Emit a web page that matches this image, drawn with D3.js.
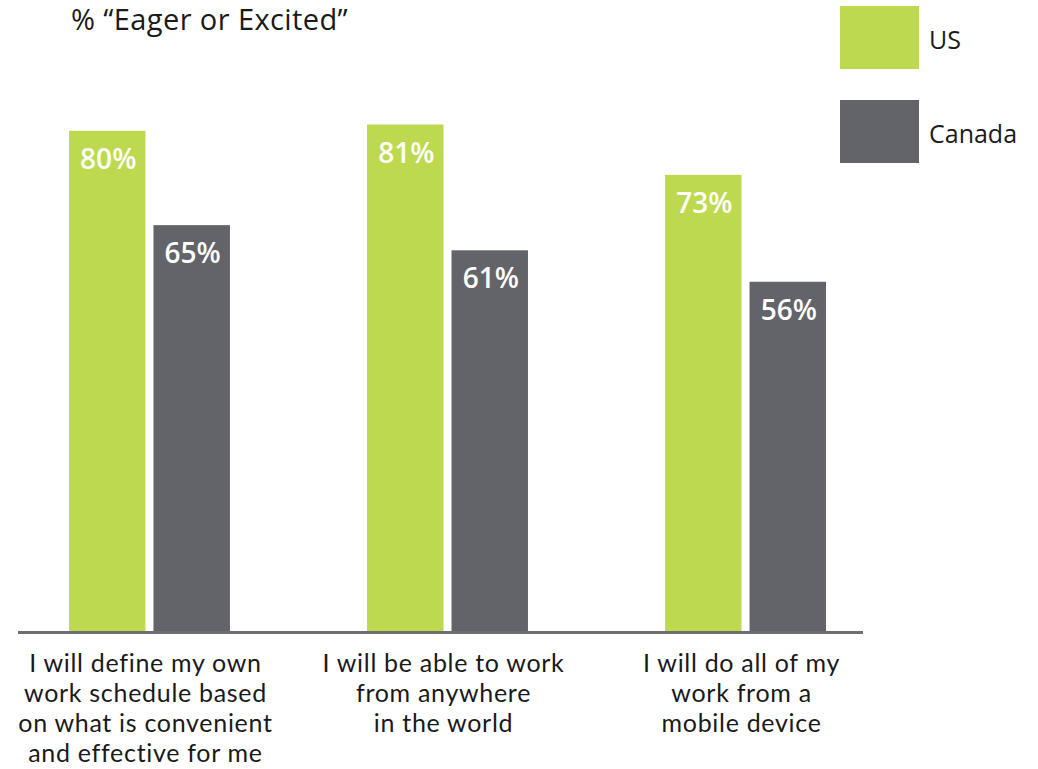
<!DOCTYPE html>
<html>
<head>
<meta charset="utf-8">
<script src="https://cdn.jsdelivr.net/npm/d3@7"></script>
<style>
  html, body { margin: 0; padding: 0; background: #ffffff; }
  svg { display: block; font-family: "Open Sans", Lato, sans-serif; }
</style>
</head>
<body>
<svg id="chart" width="1038" height="769"></svg>
<script>
// Survey data: share answering "Eager or Excited"
const categories = [
  "I will define my own work schedule based on what is convenient and effective for me",
  "I will be able to work from anywhere in the world",
  "I will do all of my work from a mobile device"
];
const categoryLines = [
  ["I will define my own", "work schedule based", "on what is convenient", "and effective for me"],
  ["I will be able to work", "from anywhere", "in the world"],
  ["I will do all of my", "work from a", "mobile device"]
];
const seriesNames = ["US", "Canada"];
const usValues = [80, 81, 73];
const canadaValues = [65, 61, 56];
const titleText = "% \u201CEager or Excited\u201D";

const colors = { US: "#bdd950", Canada: "#636469" };

const svg = d3.select("#chart");

const y = d3.scaleLinear().domain([0, 100]).range([634, 5]);

const x0 = d3.scaleBand()
  .domain(categories)
  .range([69, 826])
  .paddingInner(0.46)
  .paddingOuter(0);

const x1 = d3.scaleBand()
  .domain(seriesNames)
  .range([0, x0.bandwidth()])
  .paddingInner(0.095)
  .paddingOuter(0);

const rows = categories.map((c, i) => ({
  category: c,
  lines: categoryLines[i],
  values: [
    { series: "US", value: usValues[i] },
    { series: "Canada", value: canadaValues[i] }
  ]
}));

// Title
svg.append("text")
  .attr("x", 71)
  .attr("y", 30)
  .attr("font-size", 29)
  .attr("letter-spacing", 0.4)
  .attr("fill", "#1a1a1a")
  .text(titleText);

// Bars
const groups = svg.append("g").selectAll("g")
  .data(rows)
  .join("g")
  .attr("transform", d => `translate(${x0(d.category)},0)`);

groups.selectAll("rect")
  .data(d => d.values)
  .join("rect")
  .attr("x", d => x1(d.series))
  .attr("y", d => y(d.value))
  .attr("width", x1.bandwidth())
  .attr("height", d => y(0) - y(d.value))
  .attr("fill", d => colors[d.series]);

// Value labels inside bar tops
groups.selectAll("text.value")
  .data(d => d.values)
  .join("text")
  .attr("class", "value")
  .attr("x", d => x1(d.series) + x1.bandwidth() / 2 + 1)
  .attr("y", d => y(d.value) + 38)
  .attr("text-anchor", "middle")
  .attr("font-size", 28)
  .attr("font-weight", 600)
  .attr("fill", "#ffffff")
  .text(d => d.value + "%");

// Baseline
svg.append("line")
  .attr("x1", 18)
  .attr("x2", 863)
  .attr("y1", y(0) - 1.5)
  .attr("y2", y(0) - 1.5)
  .attr("stroke", "#6d6e71")
  .attr("stroke-width", 3);

// Category labels (one text per line, 30px leading)
const labelGroups = svg.append("g").selectAll("g")
  .data(rows)
  .join("g")
  .attr("transform", d => `translate(${x0(d.category) + x0.bandwidth() / 2 - 4},672)`);

labelGroups.selectAll("text")
  .data(d => d.lines)
  .join("text")
  .attr("x", 0)
  .attr("y", (d, i) => i * 30)
  .attr("text-anchor", "middle")
  .attr("font-family", "Lato, sans-serif")
  .attr("font-size", 25)
  .attr("letter-spacing", 0.7)
  .attr("fill", "#1a1a1a")
  .text(d => d);

// Legend
const legend = svg.append("g").selectAll("g")
  .data(seriesNames)
  .join("g")
  .attr("transform", (d, i) => `translate(840,${6 + i * 94})`);

legend.append("rect")
  .attr("width", 79)
  .attr("height", 63)
  .attr("fill", d => colors[d]);

legend.append("text")
  .attr("x", 89)
  .attr("y", 43)
  .attr("font-size", 25)
  .attr("fill", "#1a1a1a")
  .text(d => d);
</script>
</body>
</html>
